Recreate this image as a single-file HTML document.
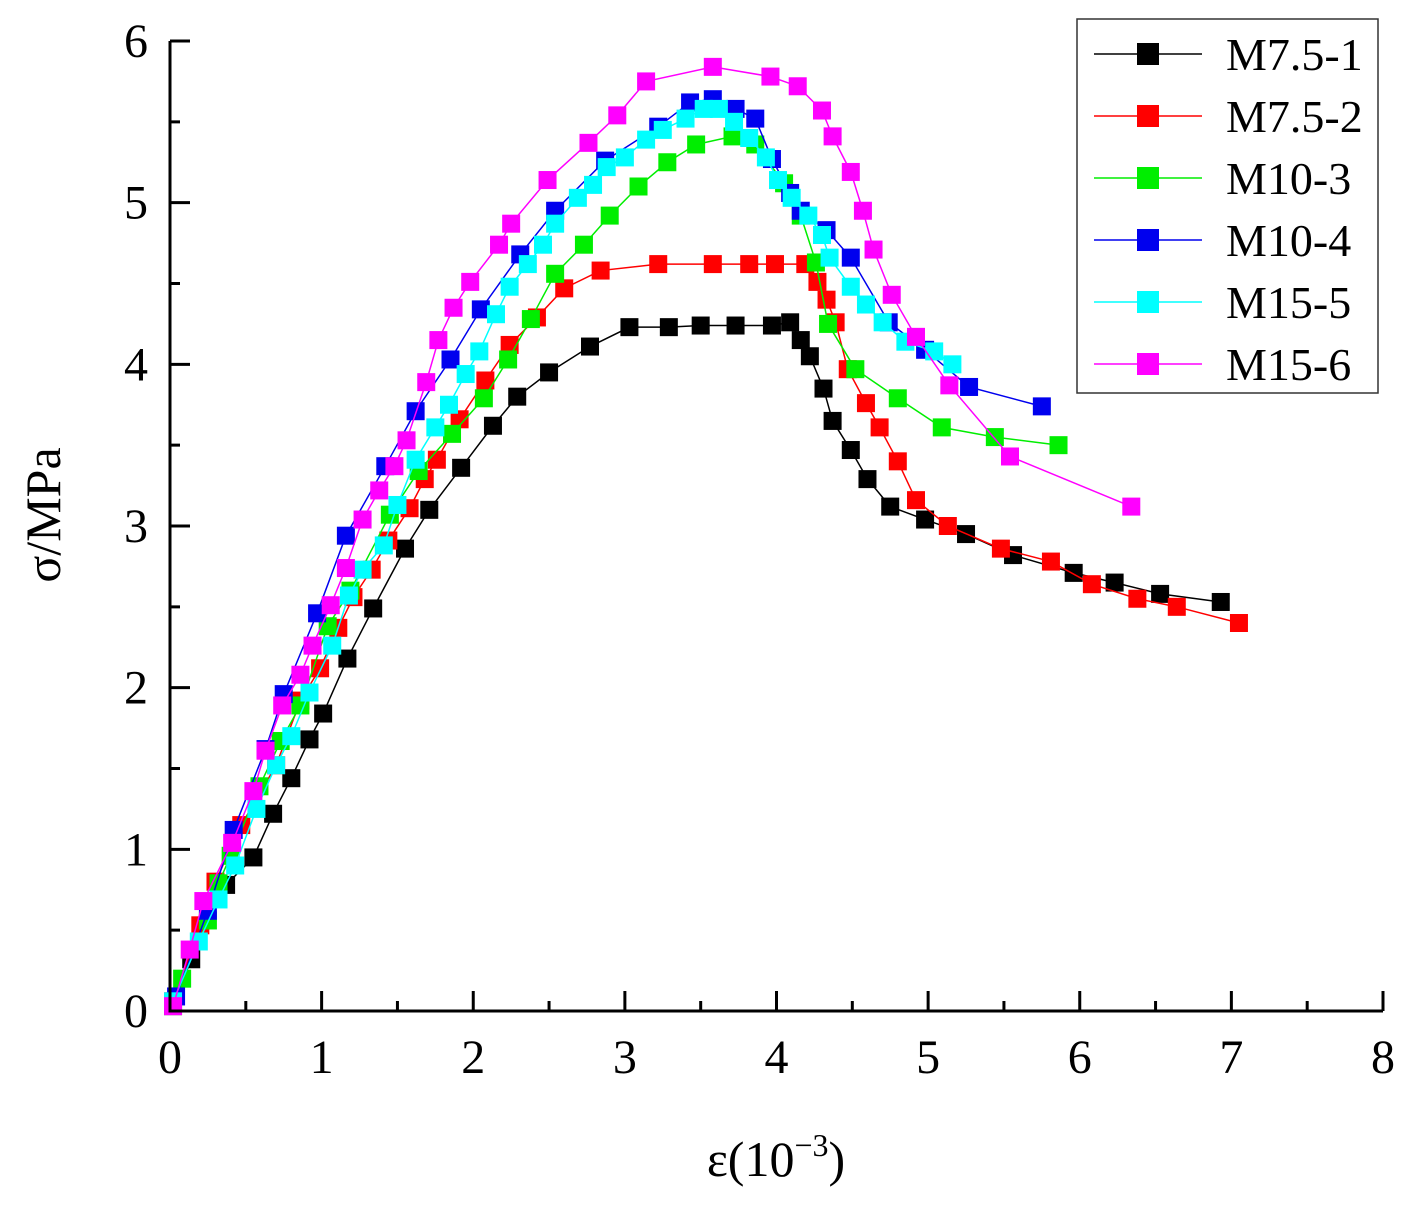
<!DOCTYPE html>
<html><head><meta charset="utf-8"><style>
body{margin:0;background:#fff}
text{font-family:'Liberation Serif','DejaVu Serif','Times New Roman',serif !important;fill:#000}
</style></head><body>
<svg id="chart" width="1407" height="1206" xmlns="http://www.w3.org/2000/svg" style="position:absolute;left:0;top:0">
<g id="series"></g>
<g id="axes"></g>
<g id="legend"></g>
<text x="0" y="0" transform="translate(60,515) rotate(-90)" text-anchor="middle" font-size="50" style="font-family:'Liberation Serif','DejaVu Serif',serif">σ/MPa</text>
<text x="776" y="1176" text-anchor="middle" font-size="50" style="font-family:'Liberation Serif','DejaVu Serif',serif">ε(10<tspan dy="-20" font-size="32">−3</tspan><tspan dy="20">)</tspan></text>
</svg>
<script>
const seriesNames=["M7.5-1","M7.5-2","M10-3","M10-4","M15-5","M15-6"];
const seriesColors=["#000000","#ff0000","#00ee00","#0000ee","#00ffff","#ff00ff"];
const xTicks=[0,1,2,3,4,5,6,7,8];
const yTicks=[0,1,2,3,4,5,6];
const s1x=[0.02,0.14,0.37,0.55,0.68,0.8,0.92,1.01,1.17,1.34,1.55,1.71,1.92,2.13,2.29,2.5,2.77,3.03,3.29,3.5,3.73,3.97,4.09,4.16,4.22,4.31,4.37,4.49,4.6,4.75,4.98,5.25,5.56,5.96,6.23,6.53,6.93];
const s1y=[0.03,0.32,0.78,0.95,1.22,1.44,1.68,1.84,2.18,2.49,2.86,3.10,3.36,3.62,3.80,3.95,4.11,4.23,4.23,4.24,4.24,4.24,4.26,4.15,4.05,3.85,3.65,3.47,3.29,3.12,3.04,2.95,2.82,2.71,2.65,2.58,2.53];
const s2x=[0.02,0.2,0.3,0.47,0.7,0.86,0.99,1.11,1.21,1.33,1.44,1.58,1.68,1.76,1.91,2.08,2.24,2.42,2.6,2.84,3.22,3.58,3.82,3.99,4.19,4.27,4.33,4.39,4.47,4.59,4.68,4.8,4.92,5.13,5.48,5.81,6.08,6.38,6.64,7.05];
const s2y=[0.06,0.53,0.8,1.15,1.52,1.92,2.12,2.37,2.56,2.73,2.91,3.11,3.29,3.41,3.66,3.90,4.12,4.29,4.47,4.58,4.62,4.62,4.62,4.62,4.62,4.51,4.40,4.26,3.97,3.76,3.61,3.40,3.16,3.0,2.86,2.78,2.64,2.55,2.5,2.40];
const s3x=[0.08,0.25,0.32,0.4,0.59,0.73,0.86,1.04,1.19,1.45,1.64,1.86,2.07,2.23,2.38,2.54,2.73,2.9,3.09,3.28,3.47,3.71,3.86,4.05,4.16,4.26,4.34,4.52,4.8,5.09,5.44,5.86];
const s3y=[0.2,0.56,0.79,0.96,1.39,1.67,1.89,2.38,2.60,3.07,3.34,3.57,3.79,4.03,4.28,4.56,4.74,4.92,5.10,5.25,5.36,5.41,5.36,5.12,4.92,4.63,4.25,3.97,3.79,3.61,3.55,3.50];
const s4x=[0.04,0.25,0.42,0.63,0.75,0.97,1.16,1.42,1.62,1.85,2.05,2.31,2.54,2.87,3.22,3.43,3.58,3.73,3.86,3.97,4.09,4.16,4.33,4.49,4.74,4.98,5.27,5.75];
const s4y=[0.09,0.62,1.12,1.62,1.96,2.46,2.94,3.37,3.71,4.03,4.34,4.68,4.95,5.26,5.47,5.62,5.64,5.58,5.52,5.27,5.06,4.95,4.83,4.66,4.26,4.09,3.86,3.74];
const s5x=[0.02,0.19,0.32,0.43,0.57,0.7,0.8,0.92,1.07,1.18,1.27,1.41,1.5,1.62,1.75,1.84,1.95,2.04,2.15,2.24,2.36,2.46,2.54,2.69,2.79,2.88,3.0,3.14,3.25,3.4,3.52,3.62,3.72,3.82,3.93,4.01,4.1,4.21,4.3,4.35,4.49,4.59,4.7,4.85,5.04,5.16];
const s5y=[0.06,0.43,0.69,0.9,1.25,1.52,1.7,1.97,2.26,2.57,2.73,2.88,3.13,3.41,3.61,3.75,3.94,4.08,4.31,4.48,4.62,4.74,4.87,5.03,5.11,5.22,5.28,5.39,5.45,5.52,5.58,5.58,5.50,5.40,5.28,5.14,5.03,4.92,4.80,4.66,4.48,4.37,4.26,4.14,4.08,4.0];
const s6x=[0.02,0.13,0.22,0.41,0.55,0.63,0.74,0.86,0.94,1.06,1.16,1.27,1.38,1.48,1.56,1.69,1.77,1.87,1.98,2.17,2.25,2.49,2.76,2.95,3.14,3.58,3.96,4.14,4.3,4.37,4.49,4.57,4.64,4.76,4.92,5.14,5.54,6.34];
const s6y=[0.03,0.38,0.68,1.04,1.36,1.61,1.89,2.08,2.26,2.51,2.74,3.04,3.22,3.37,3.53,3.89,4.15,4.35,4.51,4.74,4.87,5.14,5.37,5.54,5.75,5.84,5.78,5.72,5.57,5.41,5.19,4.95,4.71,4.43,4.17,3.87,3.43,3.12];
const allX=[s1x,s2x,s3x,s4x,s5x,s6x], allY=[s1y,s2y,s3y,s4y,s5y,s6y];

const X0=170,X1=1383,Y0=1011,Y1=41;
const sx=v=>X0+(X1-X0)*v/8;
const sy=v=>Y0-(Y0-Y1)*v/6;
const NS="http://www.w3.org/2000/svg";
const FF="font-family:'Liberation Serif','DejaVu Serif',serif";
function mk(tag,parent){const e=document.createElementNS(NS,tag);parent.appendChild(e);return e;}
const sg=document.getElementById('series');
allX.forEach((xs,i)=>{
  const g=mk('g',sg);
  
  
  const pl=mk('polyline',g);
  
  
  pl.setAttribute('points',xs.map((x,j)=>sx(x)+','+sy(allY[i][j])).join(' '));
  pl.setAttribute('fill','none');pl.setAttribute('stroke',seriesColors[i]);pl.setAttribute('stroke-width','1.5');
  xs.forEach((x,j)=>{
    const r=mk('rect',g);
    
    
    r.setAttribute('x',sx(x)-9);r.setAttribute('y',sy(allY[i][j])-9);
    r.setAttribute('width',18);r.setAttribute('height',18);r.setAttribute('fill',seriesColors[i]);
  });
});
const ag=document.getElementById('axes');
let p='M'+X0+' '+Y1+'V'+Y0+'H'+X1;
xTicks.forEach(t=>{p+='M'+sx(t)+' '+Y0+'v-20'; if(t<8)p+='M'+sx(t+0.5)+' '+Y0+'v-10';});
yTicks.forEach(t=>{p+='M'+X0+' '+sy(t)+'h20'; if(t<6)p+='M'+X0+' '+sy(t+0.5)+'h10';});
const ap=mk('path',ag);


ap.setAttribute('d',p);ap.setAttribute('stroke','#000');ap.setAttribute('stroke-width','3');ap.setAttribute('fill','none');
xTicks.forEach(t=>{const e=mk('text',ag);
  
  
  e.setAttribute('style',FF);
  e.setAttribute('x',sx(t));e.setAttribute('y',1073);e.setAttribute('text-anchor','middle');e.setAttribute('font-size','48');e.textContent=t;});
yTicks.forEach(t=>{const e=mk('text',ag);
  
  
  e.setAttribute('style',FF);
  e.setAttribute('x',148);e.setAttribute('y',sy(t)+16);e.setAttribute('text-anchor','end');e.setAttribute('font-size','48');e.textContent=t;});
const lg=document.getElementById('legend');
const box=mk('rect',lg);


box.setAttribute('x',1077);box.setAttribute('y',19);box.setAttribute('width',301);box.setAttribute('height',374);
box.setAttribute('fill','#fff');box.setAttribute('stroke','#333');box.setAttribute('stroke-width','1.5');
seriesNames.forEach((n,i)=>{
  const y=54+62*i;
  const g=mk('g',lg);
  
  
  const l=mk('line',g);l.setAttribute('x1',1094);l.setAttribute('x2',1202);l.setAttribute('y1',y);l.setAttribute('y2',y);
  l.setAttribute('stroke',seriesColors[i]);l.setAttribute('stroke-width','1.5');
  const r=mk('rect',g);r.setAttribute('x',1137);r.setAttribute('y',y-11);r.setAttribute('width',22);r.setAttribute('height',22);r.setAttribute('fill',seriesColors[i]);
  const t=mk('text',g);t.setAttribute('style',FF);t.setAttribute('x',1226);t.setAttribute('y',y+16);t.setAttribute('font-size','46');t.textContent=n;
});
</script>
</body></html>
